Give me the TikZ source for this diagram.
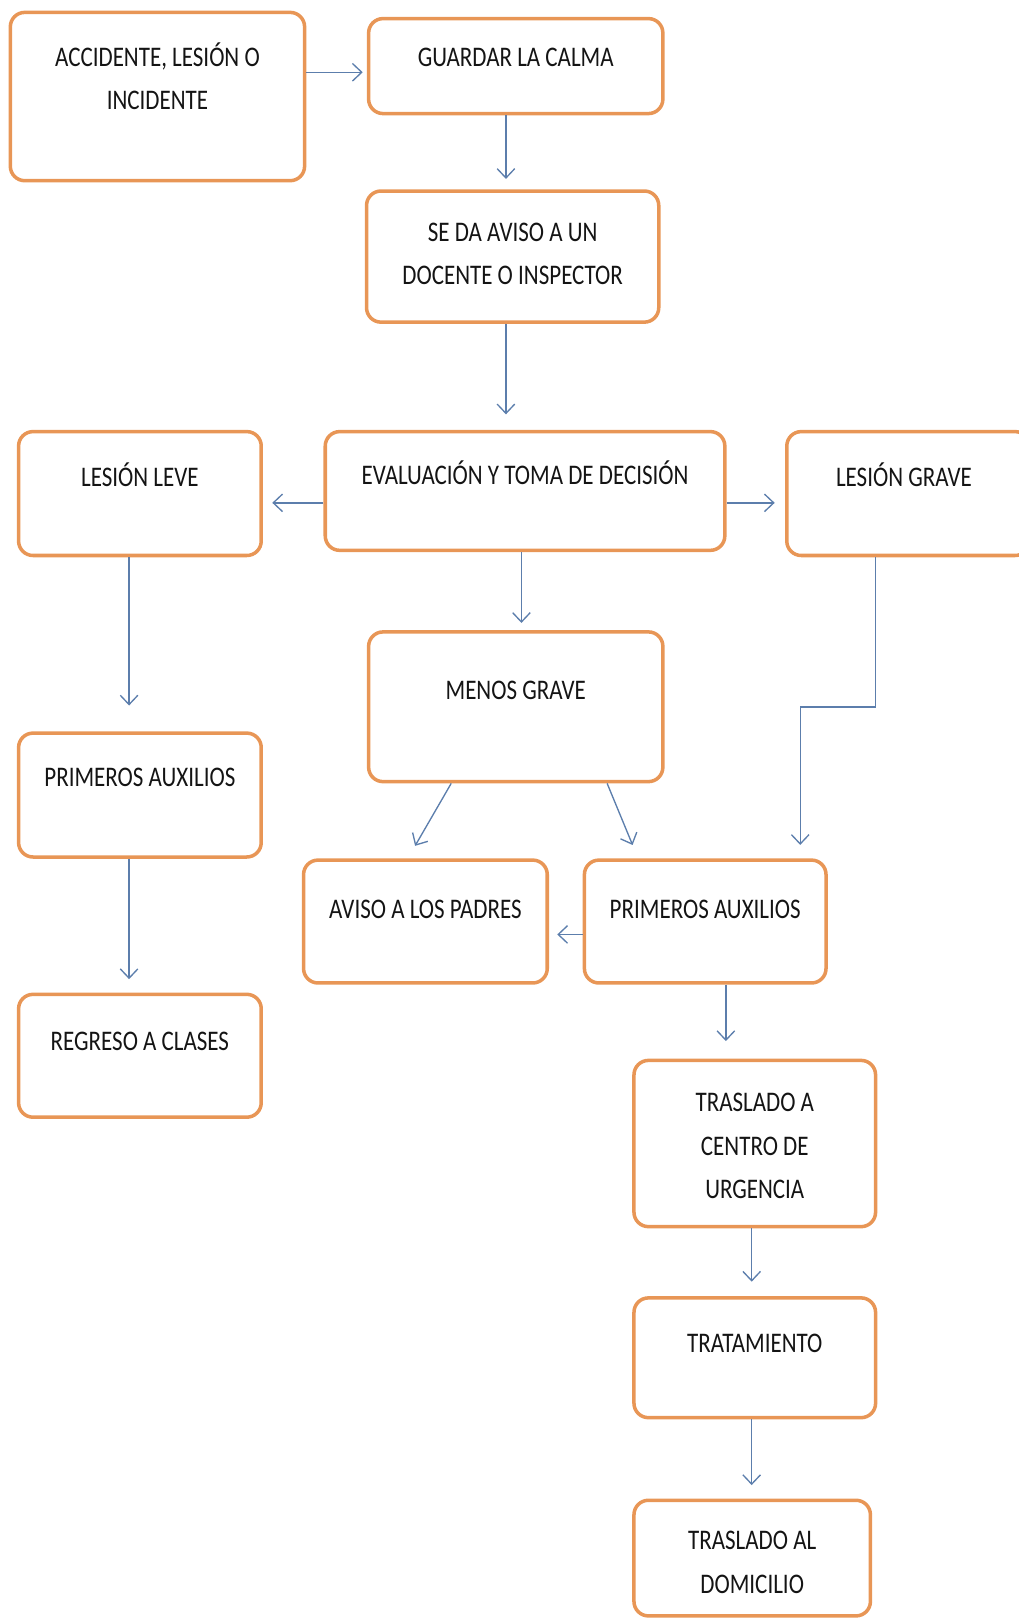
\documentclass[tikz,border=0pt]{standalone}
\usepackage{fontspec}
\setmainfont{Carlito}[FakeStretch=0.81]
\usetikzlibrary{arrows.meta,positioning}
\definecolor{borde}{RGB}{232,150,86}
\definecolor{azul}{RGB}{92,126,172}

\tikzset{
  caja/.style={draw=borde, line width=3.4pt, rounded corners=14pt, inner sep=0pt},
  txt/.style={align=center, inner sep=0pt, text=black!92,
    font=\fontsize{27.5}{42}\selectfont, execute at begin node=\strut},
  flecha/.style={draw=azul, line width=1.3pt, -{Straight Barb[length=9pt,width=17pt]}},
}

\begin{document}
\begin{tikzpicture}[x=1pt,y=-1pt]
\useasboundingbox (0,0) rectangle (986,1568);

% cajas
\node[caja, minimum width=285pt, minimum height=163pt] (acc) at (152.5,93.5) {};
\node[caja, minimum width=285pt, minimum height=92pt] (guardar) at (499.5,64) {};
\node[caja, minimum width=283pt, minimum height=127pt] (aviso) at (496.5,248.5) {};
\node[caja, minimum width=387pt, minimum height=115pt] (eval) at (508.5,475.5) {};
\node[caja, minimum width=235pt, minimum height=120pt] (leve) at (135.5,478) {};
\node[caja, minimum width=235pt, minimum height=120pt] (grave) at (879.5,478) {};
\node[caja, minimum width=285pt, minimum height=145pt] (menos) at (499.5,684.5) {};
\node[caja, minimum width=235pt, minimum height=120pt] (prim1) at (135.5,770) {};
\node[caja, minimum width=235pt, minimum height=119pt] (regreso) at (135.5,1022.5) {};
\node[caja, minimum width=236pt, minimum height=119pt] (padres) at (412,892.5) {};
\node[caja, minimum width=234pt, minimum height=119pt] (prim2) at (683,892.5) {};
\node[caja, minimum width=234pt, minimum height=161pt] (centro) at (731,1107.5) {};
\node[caja, minimum width=234pt, minimum height=116pt] (trat) at (731,1315) {};
\node[caja, minimum width=229pt, minimum height=112pt] (domicilio) at (728.5,1509) {};

% textos
\node[txt, below=30.5pt of acc.north] (accT) {ACCIDENTE, LESIÓN O\\INCIDENTE};
\node[txt, below=18.5pt of guardar.north] (guardarT) {GUARDAR LA CALMA};
\node[txt, below=32.5pt of aviso.north] (avisoT) {SE DA AVISO A UN\\DOCENTE O INSPECTOR};
\node[txt, below=23.5pt of eval.north] (evalT) {EVALUACIÓN Y TOMA DE DECISIÓN};
\node[txt, below=25.5pt of leve.north] (leveT) {LESIÓN LEVE};
\node[txt, below=25.5pt of grave.north, xshift=-4pt] (graveT) {LESIÓN GRAVE};
\node[txt, below=37.5pt of menos.north] (menosT) {MENOS GRAVE};
\node[txt, below=23.5pt of prim1.north] (prim1T) {PRIMEROS AUXILIOS};
\node[txt, below=26.5pt of regreso.north] (regresoT) {REGRESO A CLASES};
\node[txt, below=28.5pt of padres.north] (padresT) {AVISO A LOS PADRES};
\node[txt, below=28.5pt of prim2.north] (prim2T) {PRIMEROS AUXILIOS};
\node[txt, below=33.5pt of centro.north] (centroT) {TRASLADO A\\CENTRO DE\\URGENCIA};
\node[txt, below=24.5pt of trat.north] (tratT) {TRATAMIENTO};
\node[txt, below=31.5pt of domicilio.north] (domicilioT) {TRASLADO AL\\DOMICILIO};

% flechas
\draw[flecha, shorten >=4pt] (acc.east |- 0,70) -- (guardar.west |- 0,70);
\draw[flecha, shorten >=10pt] (guardar.south -| 490,0) -- (aviso.north -| 490,0);
\draw[flecha, shorten >=15pt] (aviso.south -| 490,0) -- (eval.north -| 490,0);
\draw[flecha, shorten >=9pt] (eval.west |- 0,487) -- (leve.east |- 0,487);
\draw[flecha, shorten >=10pt] (eval.east |- 0,487) -- (grave.west |- 0,487);
\draw[flecha, shorten >=7pt] (eval.south -| 505,0) -- (menos.north -| 505,0);
\draw[flecha, shorten >=25pt] (leve.south -| 125,0) -- (prim1.north -| 125,0);
\draw[flecha, shorten >=13pt] (prim1.south -| 125,0) -- (regreso.north -| 125,0);
\draw[flecha, shorten >=14pt] (menos.south -| 437,0) -- (padres.north -| 395,0);
\draw[flecha, shorten >=14pt] (menos.south -| 588,0) -- (prim2.north -| 618,0);
\draw[flecha, shorten >=13pt] (grave.south -| 848,0) -- ++(0,145) -| (prim2.north -| 775,0);
\draw[flecha, shorten >=8pt] (prim2.west |- 0,905) -- (padres.east |- 0,905);
\draw[flecha, shorten >=17pt] (prim2.south -| 703,0) -- (centro.north -| 703,0);
\draw[flecha, shorten >=14pt] (centro.south -| 728,0) -- (trat.north -| 728,0);
\draw[flecha, shorten >=13pt] (trat.south -| 728,0) -- (domicilio.north -| 728,0);
\end{tikzpicture}
\end{document}
